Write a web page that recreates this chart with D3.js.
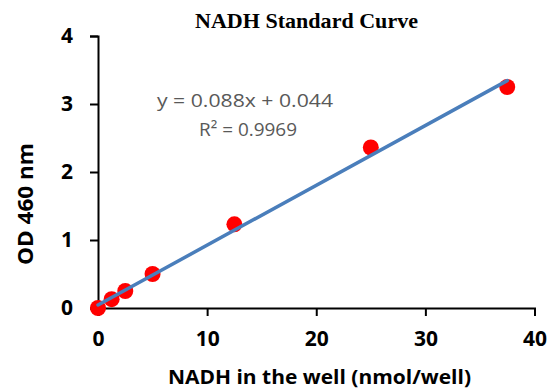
<!DOCTYPE html>
<html>
<head>
<meta charset="utf-8">
<script src="https://cdn.jsdelivr.net/npm/d3@7"></script>
<style>
  body { margin: 0; background: #fff; }
  svg { display: block; }
</style>
</head>
<body>
<svg id="chart"></svg>
<script>
// NADH amount (nmol/well) and measured OD 460
const nadh = [0, 1.25, 2.5, 5, 12.5, 25, 37.5];
const od = [0, 0.13, 0.25, 0.5, 1.23, 2.36, 3.25];
const xTicks = [0, 10, 20, 30, 40];
const yTicks = [0, 1, 2, 3, 4];
const slope = 0.088;
const intercept = 0.044;
const rSquared = 0.9969;
const fitRange = [0, 37.5];

const width = 550, height = 391;
const margin = {top: 36, right: 15.5, bottom: 83, left: 98};

const svg = d3.select('#chart')
    .attr('width', width)
    .attr('height', height);

const x = d3.scaleLinear()
    .domain([0, 40])
    .range([margin.left, width - margin.right]);

const y = d3.scaleLinear()
    .domain([0, 4])
    .range([height - margin.bottom, margin.top]);

const labelFont = '"Open Sans", "DejaVu Sans", sans-serif';

// axes
const xAxis = svg.append('g')
    .attr('transform', `translate(0,${y(0)})`)
    .call(d3.axisBottom(x).tickValues(xTicks).tickFormat(d3.format('d'))
        .tickSize(8).tickPadding(15).tickSizeOuter(8));

const yAxis = svg.append('g')
    .attr('transform', `translate(${x(0)},0)`)
    .call(d3.axisLeft(y).tickValues(yTicks).tickFormat(d3.format('d'))
        .tickSize(8).tickPadding(17).tickSizeOuter(8));

[xAxis, yAxis].forEach(a => {
    a.selectAll('path, line').attr('stroke', '#000').attr('stroke-width', 2);
    a.selectAll('text')
        .attr('fill', '#000')
        .style('font-family', labelFont)
        .style('font-weight', 'bold')
        .style('font-size', '21px');
});

// points
svg.append('g')
    .selectAll('circle')
    .data(nadh.map((v, i) => ({x: v, y: od[i]})))
    .join('circle')
    .attr('cx', d => x(d.x))
    .attr('cy', d => y(d.y))
    .attr('r', 8)
    .attr('fill', '#ff0000');

// linear fit
svg.append('line')
    .attr('x1', x(fitRange[0]))
    .attr('y1', y(slope * fitRange[0] + intercept))
    .attr('x2', x(fitRange[1]))
    .attr('y2', y(slope * fitRange[1] + intercept))
    .attr('stroke', '#4a7ebb')
    .attr('stroke-width', 3.5)
    .attr('stroke-linecap', 'round');

// equation
const eq = svg.append('g')
    .attr('fill', '#595959')
    .style('font-family', labelFont)
    .style('font-size', '19px')
    .attr('text-anchor', 'middle');
eq.append('text').attr('x', 245).attr('y', 107)
    .attr('textLength', 176).attr('lengthAdjust', 'spacingAndGlyphs')
    .text(`y = ${slope}x + ${intercept}`);
eq.append('text').attr('x', 248).attr('y', 136)
    .attr('textLength', 98).attr('lengthAdjust', 'spacingAndGlyphs')
    .text(`R² = ${rSquared}`);

// title
svg.append('text')
    .attr('x', 306.5)
    .attr('y', 28)
    .attr('text-anchor', 'middle')
    .attr('textLength', 223).attr('lengthAdjust', 'spacingAndGlyphs')
    .style('font-family', '"Liberation Serif", "Times New Roman", serif')
    .style('font-weight', 'bold')
    .style('font-size', '21px')
    .text('NADH Standard Curve');

// axis titles
svg.append('text')
    .attr('x', 319.5)
    .attr('y', 384)
    .attr('text-anchor', 'middle')
    .attr('textLength', 303).attr('lengthAdjust', 'spacingAndGlyphs')
    .style('font-family', labelFont)
    .style('font-weight', 'bold')
    .style('font-size', '20px')
    .text('NADH in the well (nmol/well)');

svg.append('text')
    .attr('transform', `translate(33,204) rotate(-90)`)
    .attr('text-anchor', 'middle')
    .attr('textLength', 122).attr('lengthAdjust', 'spacingAndGlyphs')
    .style('font-family', labelFont)
    .style('font-weight', 'bold')
    .style('font-size', '21px')
    .text('OD 460 nm');
</script>
</body>
</html>
